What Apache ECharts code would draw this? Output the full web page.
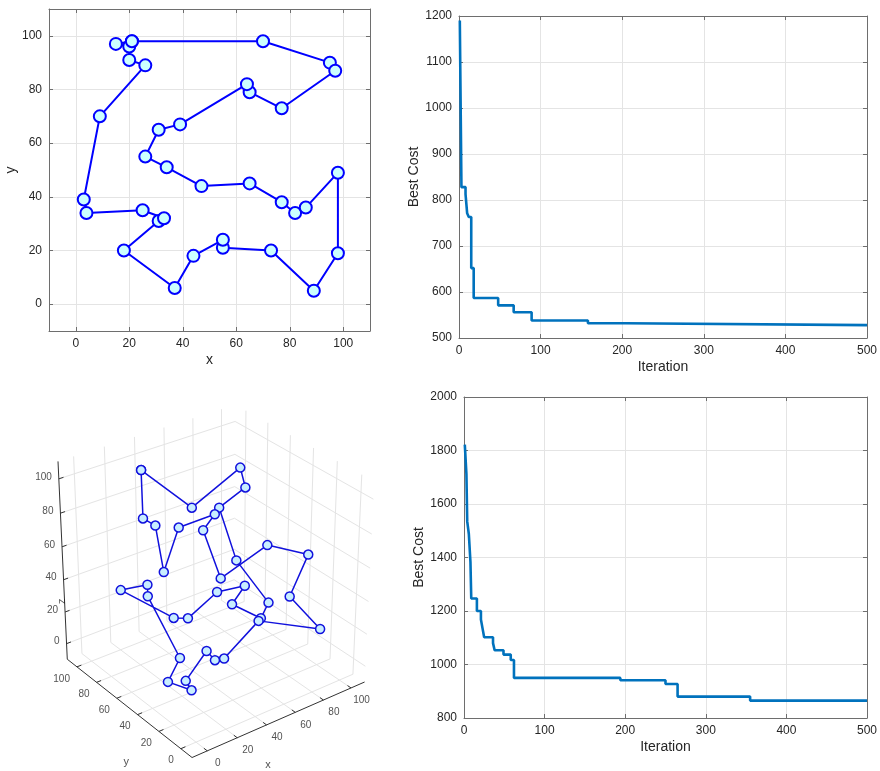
<!DOCTYPE html>
<html><head><meta charset="utf-8">
<script src="https://cdn.jsdelivr.net/npm/echarts@6/dist/echarts.min.js"></script>
<style>html,body{margin:0;padding:0;background:#fff}#c{width:880px;height:771px}</style>
</head><body><div id="c"></div>
<script>
// ---------- DATA ----------
// 2D tour (visiting order)
const tourX = [21,70,95,97,77,65,64,39,31,26,34,47,65,77,82,86,98,98,89,73,55,55,44,37,18,31,33,25,4,3,9,26,20,20,15];
const tourY = [98,98,90,87,73,79,82,67,65,55,51,44,45,38,34,36,49,19,5,20,21,24,18,6,20,31,32,35,34,39,70,89,91,96,97];
const tick2D = [0,20,40,60,80,100];

// convergence curve 1 (iteration where best cost changes, best cost)
const conv1Iter = [1,3,8,10,12,15,18,48,67,89,158,204,500];
const conv1Cost = [1190,828,813,771,763,652,587,571,556,538,532,528,528];
// convergence curve 2
const conv2Iter = [1,3,4,6,8,9,16,21,23,25,36,38,49,58,62,194,250,265,355,500];
const conv2Cost = [1822,1712,1535,1488,1383,1247,1200,1168,1135,1102,1080,1053,1037,1017,950,941,927,880,865,865];

// 3D cities
const cityX = [35,51,79,78,63,60,42,28,32,28,52,52,62,78,94,79,94,63,71,69,61,53,48,31,25,6,19,17,21,12,11,9,36,34,40];
const cityY = [97,72,65,59,63,63,72,67,80,86,63,47,46,39,23,20,11,25,37,26,37,38,45,49,54,77,70,67,43,42,24,16,31,36,28];
const cityZ = [97,80,98,89,80,77,71,51,72,75,70,48,56,63,59,40,19,30,20,37,45,36,42,30,30,43,45,40,12,1,11,10,11,15,12];
// 3D tour order (1-based city numbers)
const tour3D = [1,2,3,4,5,13,20,18,22,21,23,24,25,26,27,28,29,30,32,31,34,33,35,19,17,16,15,14,12,11,6,7,8,9,10];
const tick3D = [0,20,40,60,80,100];

// ---------- STYLE ----------
const FONT = '"Liberation Sans", Arial, Helvetica, sans-serif';
const TXT = '#262626';
const AXC = '#6e6e6e';
const GRIDC = '#e4e4e4';

// ---------- 3D camera (perspective) ----------
const CAM = {theta: 53*Math.PI/180, phi: 30*Math.PI/180, dist: 17, f: 1860, cx: 214.5, cy: 574, zk: 1.05, lo: -10, hi: 110};
function project(x, y, z) {
  const c = (CAM.lo + CAM.hi)/2, h = (CAM.hi - CAM.lo)/2;
  const X = (x-c)/h, Y = (y-c)/h, Z = CAM.zk*(z-c)/h;
  const st = Math.sin(CAM.theta), ct = Math.cos(CAM.theta), sp = Math.sin(CAM.phi), cp = Math.cos(CAM.phi);
  const pr = X*st - Y*ct;
  const pu = X*ct*sp + Y*st*sp + Z*cp;
  const pv = X*ct*cp + Y*st*cp - Z*sp;
  const d = CAM.dist + pv;
  return [CAM.cx + CAM.f*pr/d, CAM.cy - CAM.f*pu/d];
}
const LO = CAM.lo, HI = CAM.hi;
const seg = (a, b) => ({coords: [project(...a), project(...b)]});
const gridSegs = [];
tick3D.forEach(c => {
  gridSegs.push(seg([c,LO,LO],[c,HI,LO]));
  gridSegs.push(seg([LO,c,LO],[HI,c,LO]));
  gridSegs.push(seg([c,HI,LO],[c,HI,HI]));
  gridSegs.push(seg([LO,HI,c],[HI,HI,c]));
  gridSegs.push(seg([HI,c,LO],[HI,c,HI]));
  gridSegs.push(seg([HI,LO,c],[HI,HI,c]));
});
const axisSegs = [seg([LO,LO,LO],[HI,LO,LO]), seg([LO,LO,LO],[LO,HI,LO]), seg([LO,HI,LO],[LO,HI,HI])];
tick3D.forEach(c => {
  axisSegs.push(seg([c,LO,LO],[c,LO+3,LO]));
  axisSegs.push(seg([LO,c,LO],[LO+3,c,LO]));
  axisSegs.push(seg([LO,HI,c],[LO+3,HI,c]));
});
const tour3DPts = tour3D.concat([tour3D[0]]).map(i => project(cityX[i-1], cityY[i-1], cityZ[i-1]));

function labelSeries(items, align, offset, extra) {
  return {type:'scatter', xAxisIndex:6, yAxisIndex:6, symbol:'circle', symbolSize:1, silent:true, z:4,
    itemStyle:{color:'rgba(0,0,0,0)'},
    data: items.map(it => ({value: it.p, name: it.t})),
    label: Object.assign({show:true, position:'inside', formatter:'{b}', align: align, verticalAlign:'middle',
      offset: offset, color: TXT, fontSize: 10, fontFamily: FONT}, extra || {})};
}
const xLab3 = tick3D.map(c => ({p: project(c,LO,LO), t: String(c)}));
const yLab3 = tick3D.map(c => ({p: project(LO,c,LO), t: String(c)}));
const zLab3 = tick3D.map(c => ({p: project(LO,HI,c), t: String(c)}));

// ---------- axes helpers ----------
function baseAxis(gi, pos, min, max, interval, custom, showLabel) {
  const a = {type:'value', gridIndex: gi, position: pos, min: min, max: max,
    axisLine:{show:true, onZero:false, lineStyle:{color:AXC, width:1}},
    axisTick:{show:true, inside:true, length:4, lineStyle:{color:AXC}},
    axisLabel:{show: showLabel, color:TXT, fontSize:12, fontFamily:FONT, margin:7, formatter: v => String(v)},
    splitLine:{show: showLabel, lineStyle:{color:GRIDC, width:1}}};
  if (interval) a.interval = interval;
  if (custom) { a.axisTick.customValues = custom; a.axisLabel.customValues = custom; }
  return a;
}
function named(ax, name, gap, rot) {
  ax.name = name; ax.nameLocation = 'middle'; ax.nameGap = gap;
  ax.nameTextStyle = {color: TXT, fontSize: 14, fontFamily: FONT};
  if (rot) ax.nameRotate = 90;
  return ax;
}

const xAxes = [
  named(baseAxis(0,'bottom',-10,110,null,tick2D,true),'x',22),
  baseAxis(0,'top',-10,110,null,tick2D,false),
  named(baseAxis(1,'bottom',0,500,100,null,true),'Iteration',22),
  baseAxis(1,'top',0,500,100,null,false),
  named(baseAxis(2,'bottom',0,500,100,null,true),'Iteration',22),
  baseAxis(2,'top',0,500,100,null,false),
  {type:'value', gridIndex:3, min:0, max:880, show:false}
];
const yAxes = [
  named(baseAxis(0,'left',-10,110,null,tick2D,true),'y',29,true),
  baseAxis(0,'right',-10,110,null,tick2D,false),
  named(baseAxis(1,'left',500,1200,100,null,true),'Best Cost',38,true),
  baseAxis(1,'right',500,1200,100,null,false),
  named(baseAxis(2,'left',800,2000,200,null,true),'Best Cost',38,true),
  baseAxis(2,'right',800,2000,200,null,false),
  {type:'value', gridIndex:3, min:0, max:771, inverse:true, show:false}
];

const tour2D = tourX.map((x,i) => [x, tourY[i]]);
tour2D.push(tour2D[0]);

const option = {
  animation: false,
  backgroundColor: '#ffffff',
  grid: [
    {left:49, top:9, width:321, height:322},
    {left:459, top:16, width:408, height:322},
    {left:464, top:397, width:407, height:321},
    {left:0, top:0, width:880, height:771}
  ],
  xAxis: xAxes,
  yAxis: yAxes,
  series: [
    {type:'line', xAxisIndex:0, yAxisIndex:0, data: tour2D, symbol:'circle', symbolSize:12, z:3,
      lineStyle:{color:'#0000ff', width:2}, itemStyle:{color:'#ccffff', borderColor:'#0000ff', borderWidth:2}},
    {type:'line', xAxisIndex:2, yAxisIndex:2, data: conv1Iter.map((t,i)=>[t,conv1Cost[i]]), step:'end', showSymbol:false,
      lineStyle:{color:'#0072BD', width:2.6}},
    {type:'line', xAxisIndex:4, yAxisIndex:4, data: conv2Iter.map((t,i)=>[t,conv2Cost[i]]), step:'end', showSymbol:false,
      lineStyle:{color:'#0072BD', width:2.6}},
    {type:'lines', coordinateSystem:'cartesian2d', xAxisIndex:6, yAxisIndex:6, data: gridSegs, silent:true, z:1,
      lineStyle:{color:GRIDC, width:1, opacity:1}},
    {type:'lines', coordinateSystem:'cartesian2d', xAxisIndex:6, yAxisIndex:6, data: axisSegs, silent:true, z:2,
      lineStyle:{color:'#333333', width:1, opacity:1}},
    {type:'line', xAxisIndex:6, yAxisIndex:6, data: tour3DPts, symbol:'circle', symbolSize:9, z:3,
      lineStyle:{color:'#1111dd', width:1.5}, itemStyle:{color:'#c8eeff', borderColor:'#1111dd', borderWidth:1.5}},
    labelSeries(xLab3, 'center', [10.5, 12.5]),
    labelSeries(yLab3, 'right', [-7, 12]),
    labelSeries(zLab3, 'right', [-7, -2]),
    labelSeries([{p: project(50,LO,LO), t:'x'}], 'center', [-13, 46], {fontSize:11}),
    labelSeries([{p: project(LO,50,LO), t:'y'}], 'center', [-1, 56], {fontSize:11}),
    labelSeries([{p: project(LO,HI,50), t:'z'}], 'center', [-38, -1], {fontSize:11, rotate:90})
  ]
};
const chart = echarts.init(document.getElementById('c'));
chart.setOption(option);
</script>
</body></html>
